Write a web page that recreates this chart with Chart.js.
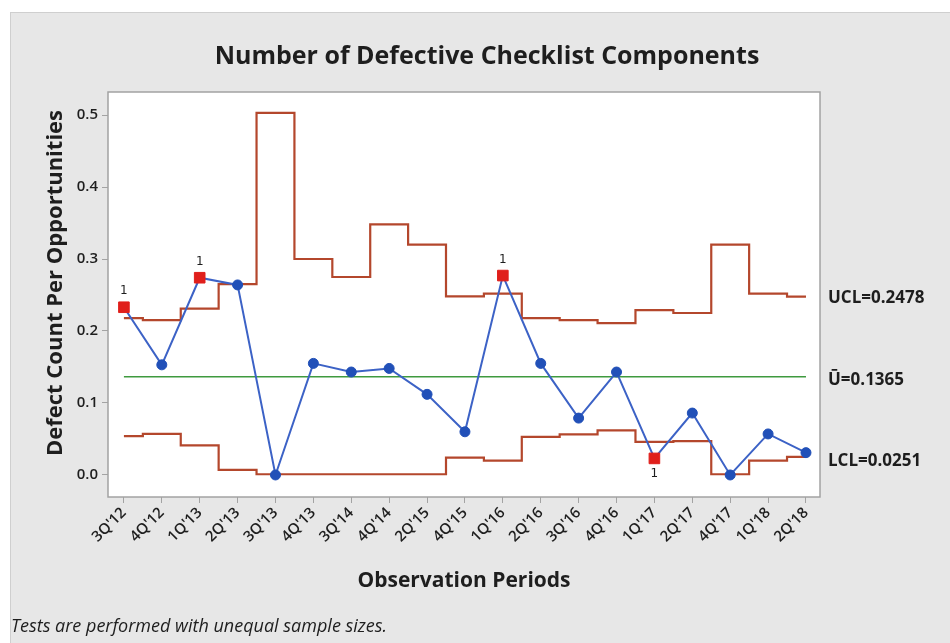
<!DOCTYPE html>
<html>
<head>
<meta charset="utf-8">
<script src="https://cdn.jsdelivr.net/npm/chart.js@4.4.1/dist/chart.umd.min.js"></script>
<style>
  html, body { margin: 0; padding: 0; background: #ffffff; }
  #wrap { width: 950px; height: 643px; }
</style>
</head>
<body>
<div id="wrap"><canvas id="uChart" width="950" height="643"></canvas></div>
<script>
// U chart - defects per opportunity by quarter
const periods = ["3Q'12", "4Q'12", "1Q'13", "2Q'13", "3Q'13", "4Q'13", "3Q'14", "4Q'14", "2Q'15", "4Q'15",
                 "1Q'16", "2Q'16", "3Q'16", "4Q'16", "1Q'17", "2Q'17", "4Q'17", "1Q'18", "2Q'18"];
const uValues = [0.233, 0.153, 0.274, 0.264, 0.000, 0.155, 0.143, 0.148, 0.112, 0.060,
                 0.277, 0.155, 0.079, 0.143, 0.023, 0.086, 0.000, 0.057, 0.031];
const uclValues = [0.218, 0.215, 0.231, 0.265, 0.503, 0.300, 0.275, 0.348, 0.320, 0.248,
                   0.252, 0.218, 0.215, 0.211, 0.229, 0.225, 0.320, 0.252, 0.2478];
const lclValues = [0.054, 0.057, 0.041, 0.007, 0.001, 0.001, 0.001, 0.001, 0.001, 0.024,
                   0.020, 0.053, 0.0565, 0.062, 0.046, 0.047, 0.001, 0.020, 0.0251];
const centerValue = 0.1365;
const flagged = [0, 2, 10, 14]; // points failing test 1
const yTicks = [0, 0.1, 0.2, 0.3, 0.4, 0.5];
const limitLabels = ['UCL=0.2478', '\u016A=0.1365', 'LCL=0.0251'];

const limitColor = '#b4472c';
const lineColor = '#3c62c6';
const dotColor = '#2150b8';
const flagColor = '#e01f1b';
const textColor = '#1e1e1e';

const xy = arr => arr.map((v, i) => ({ x: i, y: v }));

const chartDecor = {
  id: 'chartDecor',
  beforeDraw(chart) {
    const { ctx, chartArea: a } = chart;
    ctx.save();
    ctx.fillStyle = '#e7e7e7';
    ctx.fillRect(11, 13, 950, 643);
    ctx.strokeStyle = '#cfcfcf';
    ctx.lineWidth = 1;
    ctx.strokeRect(10.5, 12.5, 960, 660);
    ctx.fillStyle = '#ffffff';
    ctx.fillRect(a.left, a.top, a.right - a.left, a.bottom - a.top);
    ctx.restore();
  },
  afterDraw(chart) {
    const { ctx, chartArea: a, scales } = chart;
    const xs = scales.x, ys = scales.y;
    ctx.save();
    ctx.strokeStyle = '#a3a3a3';
    ctx.lineWidth = 1.5;
    ctx.strokeRect(a.left, a.top, a.right - a.left, a.bottom - a.top);

    ctx.fillStyle = textColor;
    ctx.textAlign = 'center';
    ctx.textBaseline = 'middle';
    ctx.font = 'bold 25px "Open Sans"';
    ctx.fillText('Number of Defective Checklist Components', 487, 57);

    ctx.font = 'bold 21px "Open Sans"';
    ctx.fillText('Observation Periods', (a.left + a.right) / 2, 581);
    ctx.save();
    ctx.translate(56, 283);
    ctx.rotate(-Math.PI / 2);
    ctx.font = 'bold 22px "Open Sans"';
    ctx.fillText('Defect Count Per Opportunities', 0, 0);
    ctx.restore();

    ctx.textAlign = 'left';
    ctx.font = 'italic 18px "Open Sans"';
    ctx.fillText('Tests are performed with unequal sample sizes.', 11, 627);

    ctx.font = 'bold 17px "Open Sans"';
    const last = periods.length - 1;
    ctx.fillText(limitLabels[0], 828, ys.getPixelForValue(uclValues[last]) + 2);
    ctx.fillText(limitLabels[1], 828, ys.getPixelForValue(centerValue) + 3);
    ctx.fillText(limitLabels[2], 828, ys.getPixelForValue(lclValues[last]) + 4);

    ctx.textAlign = 'center';
    ctx.font = '12px "DejaVu Sans"';
    flagged.forEach(i => {
      const px = xs.getPixelForValue(i);
      const py = ys.getPixelForValue(uValues[i]);
      const below = uValues[i] < lclValues[i];
      ctx.fillText('1', px, below ? py + 15 : py - 16);
    });
    ctx.restore();
  }
};

new Chart(document.getElementById('uChart'), {
  type: 'line',
  data: {
    datasets: [
      {
        label: 'U',
        data: xy(uValues),
        borderColor: lineColor,
        borderWidth: 2,
        pointStyle: c => flagged.includes(c.dataIndex) ? 'rect' : 'circle',
        pointRadius: c => flagged.includes(c.dataIndex) ? 7.5 : 5,
        pointBackgroundColor: c => flagged.includes(c.dataIndex) ? flagColor : dotColor,
        pointBorderColor: c => flagged.includes(c.dataIndex) ? flagColor : dotColor,
        pointBorderWidth: 1,
        order: 0
      },
      {
        label: 'UCL',
        data: xy(uclValues),
        borderColor: limitColor,
        borderWidth: 2.2,
        stepped: 'middle',
        pointRadius: 0,
        order: 2
      },
      {
        label: 'Center',
        data: xy(uValues.map(() => centerValue)),
        borderColor: '#3f9a3f',
        borderWidth: 1.5,
        pointRadius: 0,
        order: 1
      },
      {
        label: 'LCL',
        data: xy(lclValues),
        borderColor: limitColor,
        borderWidth: 2.2,
        stepped: 'middle',
        pointRadius: 0,
        order: 2
      }
    ]
  },
  options: {
    responsive: false,
    animation: false,
    layout: { padding: { left: 0, top: 92, right: 130, bottom: 0 } },
    plugins: {
      legend: { display: false },
      tooltip: { enabled: false }
    },
    scales: {
      x: {
        type: 'linear',
        min: -0.42,
        max: 18.37,
        afterFit: s => { s.height = 146; },
        afterBuildTicks: s => { s.ticks = periods.map((_, i) => ({ value: i })); },
        grid: { drawOnChartArea: false, tickLength: 6, color: '#a3a3a3' },
        border: { display: false },
        ticks: {
          autoSkip: false,
          minRotation: 45,
          maxRotation: 45,
          padding: 1,
          color: textColor,
          font: { family: 'Open Sans', size: 15, weight: '600' },
          callback: v => periods[v]
        }
      },
      y: {
        min: -0.0306,
        max: 0.532,
        afterFit: s => { s.width = 108; },
        afterBuildTicks: s => { s.ticks = yTicks.map(v => ({ value: v })); },
        grid: { drawOnChartArea: false, tickLength: 6, color: '#a3a3a3' },
        border: { display: false },
        ticks: {
          padding: 4,
          color: textColor,
          font: { family: 'Open Sans', size: 15, weight: '600' },
          callback: v => v.toFixed(1)
        }
      }
    }
  },
  plugins: [chartDecor]
});
</script>
</body>
</html>
